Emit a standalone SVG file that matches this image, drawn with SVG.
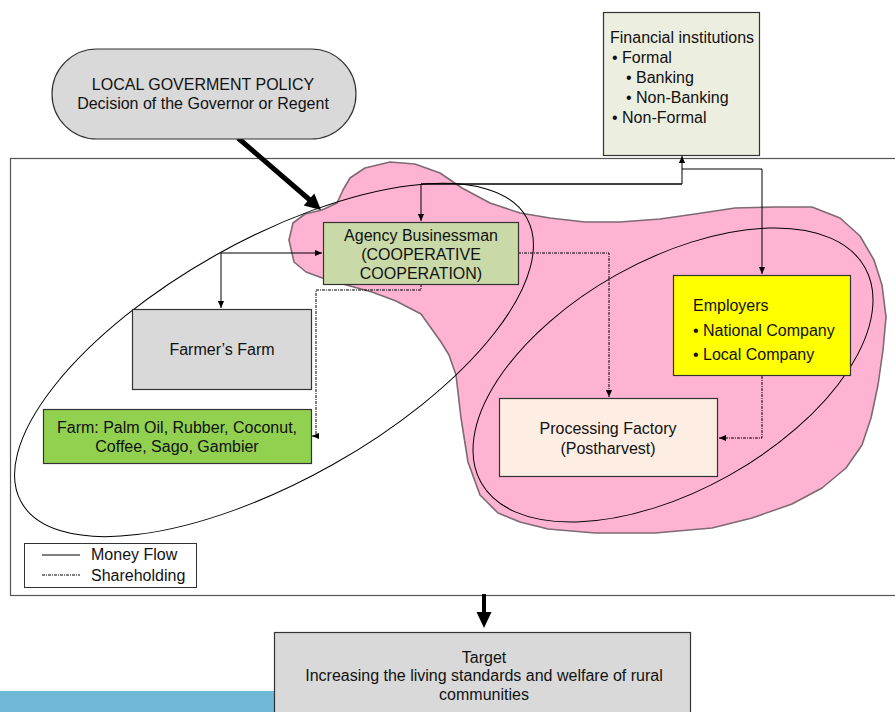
<svg xmlns="http://www.w3.org/2000/svg" width="895" height="712" viewBox="0 0 895 712">
  <style>
    text { font-family: "Liberation Sans", Arial, sans-serif; font-size: 16px; fill: #111; }
    .box { stroke: #333; stroke-width: 1.2; }
    .money { fill: none; stroke: #000; stroke-width: 1; }
    .share { fill: none; stroke: #000; stroke-width: 1; stroke-dasharray: 3 1 1 1; }
    .ring { fill: none; stroke: #000; stroke-width: 1; }
  </style>
  <defs>
    <marker id="ah" viewBox="0 0 8 8" refX="8" refY="4" markerWidth="7" markerHeight="7" orient="auto" markerUnits="userSpaceOnUse">
      <path d="M0,0.5 L8,4 L0,7.5 z" fill="#000"/>
    </marker>
  </defs>

  <rect width="895" height="712" fill="#fff"/>

  <!-- outer frame -->
  <rect x="10.5" y="158.5" width="900" height="437" fill="none" stroke="#555" stroke-width="1.2"/>

  <!-- pink region -->
  <path id="region" d="M289,240 L293,223 L305,214 L322,210 L337,203 L343,190 L350,178 L365,168 L390,162 L415,164 L440,173 L462,188 L490,203 L520,213 L550,218 L585,222 L620,222 L660,219 L695,214 L735,208 L775,207 L812,207 L840,218 L860,236 L874,260 L882,285 L886,317 L883,350 L878,385 L871,418 L862,445 L846,468 L822,488 L792,504 L752,518 L712,528 L655,533 L595,533 L548,529 L520,522 L498,513 L480,495 L468,462 L461,418 L456,375 L449,355 L441,342 L421,314 L396,301 L372,292 L350,286 L325,279 L306,272 L294,262 Z" fill="#ffb3d2" stroke="#7d6a72" stroke-width="1.6" stroke-linejoin="round"/>

  <!-- grouping rings -->
  <g id="rings">
    <ellipse class="ring" cx="274" cy="360" rx="290" ry="120" transform="rotate(-29.4 274 360)"/>
    <ellipse class="ring" cx="673" cy="375" rx="220" ry="115" transform="rotate(-29.25 673 375)"/>
  </g>

  <!-- connectors -->
  <g id="connectors">
    <!-- money flow -->
    <polyline class="money" points="421,184 682,184 682,156" marker-end="url(#ah)"/>
    <polyline class="money" points="682,184 421,184 421,221" marker-end="url(#ah)"/>
    <polyline class="money" points="682,169 762,169 762,274" marker-end="url(#ah)"/>
    <polyline class="money" points="221,253 322,253" marker-end="url(#ah)"/>
    <polyline class="money" points="221,253 221,308" marker-end="url(#ah)"/>
    <!-- shareholding -->
    <polyline class="share" points="421,284 421,290 316,290 316,436 312,436" marker-end="url(#ah)"/>
    <polyline class="share" points="518,253 609,253 609,397" marker-end="url(#ah)"/>
    <polyline class="share" points="762,376 762,438 719,438" marker-end="url(#ah)"/>
    <!-- policy arrow -->
    <line x1="238" y1="138" x2="311" y2="201" stroke="#000" stroke-width="5"/>
    <polygon points="321,210 303.7,205.4 314.3,193.4" fill="#000"/>
    <!-- arrow to target -->
    <line x1="484" y1="594" x2="484" y2="614" stroke="#000" stroke-width="4"/>
    <polygon points="476.5,612 491.5,612 484,628" fill="#000"/>
  </g>

  <g id="policy">
    <rect class="box" x="52" y="49" width="304" height="90" rx="45" ry="45" fill="#d9d9d9"/>
    <text x="203" y="90" text-anchor="middle">LOCAL GOVERMENT POLICY</text>
    <text x="203" y="109" text-anchor="middle">Decision of the Governor or Regent</text>
  </g>

  <g id="financial">
    <rect class="box" x="603.5" y="12.5" width="156" height="143" fill="#eceee0"/>
    <text x="610" y="43">Financial institutions</text>
    <text x="612" y="63">• Formal</text>
    <text x="626" y="83">• Banking</text>
    <text x="626" y="103">• Non-Banking</text>
    <text x="612" y="123">• Non-Formal</text>
  </g>

  <g id="agency">
    <rect class="box" x="323.5" y="222.5" width="195" height="62" fill="#cad9a8"/>
    <text x="421" y="241" text-anchor="middle">Agency Businessman</text>
    <text x="421" y="260" text-anchor="middle">(COOPERATIVE</text>
    <text x="421" y="279" text-anchor="middle">COOPERATION)</text>
  </g>

  <g id="farmers-farm">
    <rect class="box" x="132.5" y="309.5" width="179" height="80" fill="#d9d9d9"/>
    <text x="222" y="355" text-anchor="middle">Farmer’s Farm</text>
  </g>

  <g id="farm">
    <rect class="box" x="43.5" y="409.5" width="268" height="54" fill="#92d050"/>
    <text x="177" y="433" text-anchor="middle">Farm: Palm Oil, Rubber, Coconut,</text>
    <text x="177" y="452" text-anchor="middle">Coffee, Sago, Gambier</text>
  </g>

  <g id="employers">
    <rect class="box" x="673.5" y="275.5" width="177" height="100" fill="#ffff00"/>
    <text x="693" y="311">Employers</text>
    <text x="693" y="336">• National Company</text>
    <text x="693" y="360">• Local Company</text>
  </g>

  <g id="factory">
    <rect class="box" x="499.5" y="398.5" width="218" height="78" fill="#fdede3"/>
    <text x="608" y="434" text-anchor="middle">Processing Factory</text>
    <text x="608" y="454" text-anchor="middle">(Postharvest)</text>
  </g>

  <g id="legend">
    <rect x="24.5" y="543.5" width="172" height="44" fill="#fff" stroke="#333" stroke-width="1"/>
    <line x1="42" y1="555" x2="80" y2="555" stroke="#000" stroke-width="1"/>
    <line x1="42" y1="575" x2="80" y2="575" stroke="#000" stroke-width="1" stroke-dasharray="3 1 1 1"/>
    <text x="91" y="560">Money Flow</text>
    <text x="91" y="581">Shareholding</text>
  </g>

  <!-- bottom band -->
  <rect x="0" y="691" width="300" height="21" fill="#6fb8d8"/>

  <g id="target">
    <rect class="box" x="274.5" y="632.5" width="416" height="90" fill="#d9d9d9"/>
    <text x="484" y="663" text-anchor="middle">Target</text>
    <text x="484" y="681" text-anchor="middle">Increasing the living standards and welfare of rural</text>
    <text x="484" y="700" text-anchor="middle">communities</text>
  </g>
</svg>
